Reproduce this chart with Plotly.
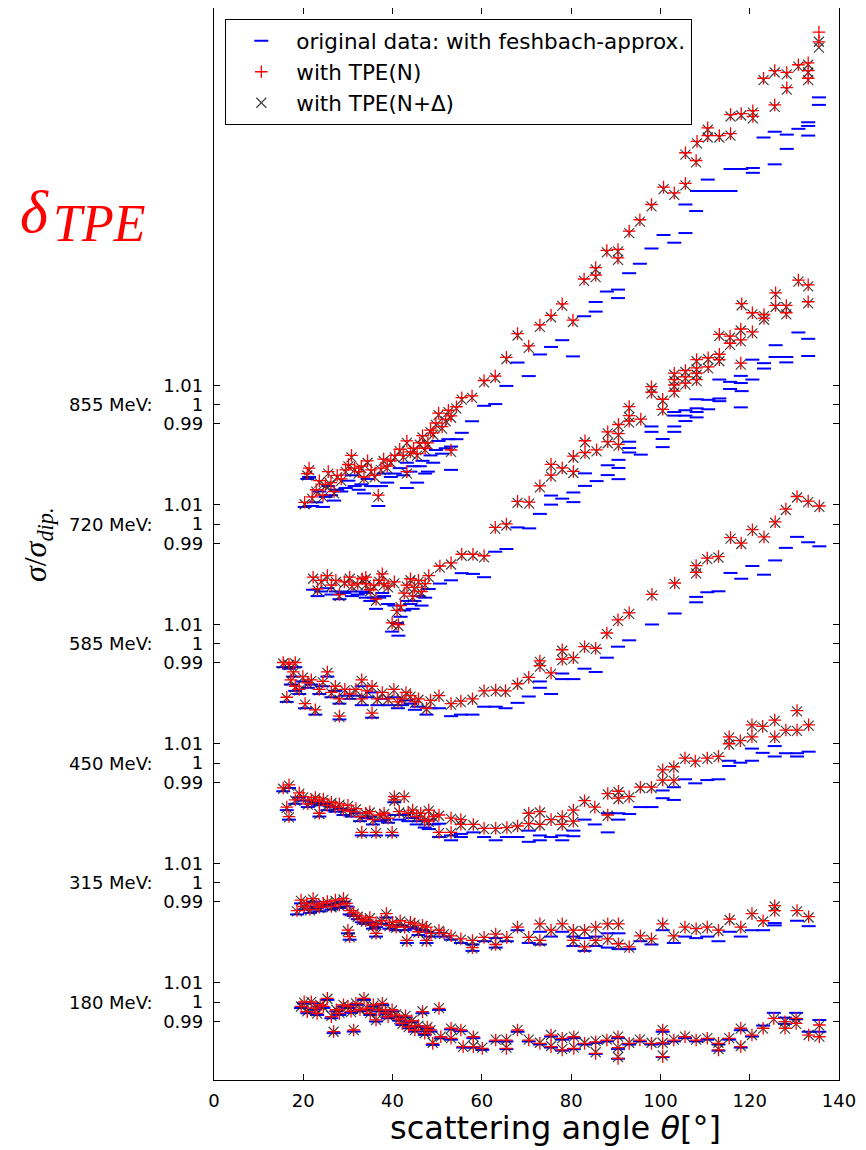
import plotly.graph_objects as go

# ---------------- data (deviations in percent: sigma/sigma_dip = 1 + dev/100) ----------------
energy_labels = ["180 MeV:", "315 MeV:", "450 MeV:", "585 MeV:", "720 MeV:", "855 MeV:"]
y_tick_values = [0.99, 1.0, 1.01]
y_tick_labels = ["0.99", "1", "1.01"]
x_tick_values = [0, 20, 40, 60, 80, 100, 120, 140]

theta_180 = [19.5, 20.2, 20.9, 21.8, 22.5, 23.1, 23.8, 24.5, 25.4, 26.3,
             26.8, 27.4, 28.1, 29.0, 30.0, 30.7, 31.3, 31.8, 32.7, 33.6,
             34.3, 35.0, 35.7, 36.3, 37.0, 37.7, 38.4, 39.0, 39.9, 40.8,
             41.5, 42.2, 42.9, 43.6, 44.3, 45.0, 45.8, 46.7, 47.2, 47.8,
             48.5, 49.0, 50.4, 50.8, 53.1, 53.1, 55.3, 55.8, 58.1, 58.1,
             60.1, 63.1, 65.5, 65.5, 68.0, 70.5, 73.0, 75.5, 75.5, 78.0,
             78.0, 80.6, 80.6, 83.0, 85.5, 85.5, 88.0, 90.5, 90.5, 90.5,
             93.0, 95.4, 98.0, 100.5, 100.5, 100.5, 103.0, 105.5, 108.0, 110.5,
             113.0, 113.0, 115.4, 118.0, 118.0, 120.5, 123.0, 125.4, 127.9, 127.9,
             130.4, 130.4, 133.2, 135.6, 135.6]
orig_180 = [-0.31, -0.07, -0.58, -0.07, -0.40, -0.67, -0.23, -0.31, 0.11, -0.84,
            -1.61, -0.48, -0.67, -0.23, -0.31, -0.56, -1.53, -0.15, -0.48, 0.11,
            -0.40, -0.67, -0.23, -1.01, -0.48, -0.15, -0.64, -0.84, -0.48, -0.76,
            -0.97, -1.19, -0.80, -1.36, -1.05, -1.53, -1.30, -0.58, -1.70, -1.38,
            -1.53, -2.22, -0.41, -1.88, -1.42, -1.95, -1.51, -2.36, -1.87, -2.36,
            -2.48, -2.04, -2.04, -2.44, -1.54, -2.04, -2.20, -1.79, -2.36, -1.95,
            -2.52, -1.87, -2.44, -2.20, -2.12, -2.69, -2.04, -1.87, -2.94, -2.44,
            -2.20, -2.04, -2.20, -1.54, -2.85, -2.16, -2.04, -1.87, -2.04, -1.95,
            -2.20, -2.52, -1.95, -1.46, -2.36, -1.79, -1.22, -0.56, -0.81, -1.13,
            -0.56, -0.89, -1.54, -0.93, -1.54]
tpe_n_180 = [-0.23, 0.01, -0.50, 0.01, -0.32, -0.59, -0.15, -0.23, 0.19, -0.76,
             -1.53, -0.40, -0.59, -0.15, -0.23, -0.48, -1.45, -0.07, -0.40, 0.19,
             -0.32, -0.59, -0.15, -0.93, -0.40, -0.07, -0.56, -0.76, -0.40, -0.68,
             -0.89, -1.11, -0.72, -1.28, -0.97, -1.45, -1.22, -0.50, -1.62, -1.30,
             -1.45, -2.14, -0.33, -1.80, -1.36, -1.88, -1.45, -2.31, -1.80, -2.31,
             -2.40, -1.97, -1.97, -2.40, -1.45, -1.97, -2.14, -1.71, -2.31, -1.88,
             -2.48, -1.80, -2.40, -2.14, -2.06, -2.66, -1.97, -1.80, -2.92, -2.36,
             -2.14, -1.97, -2.14, -1.45, -2.83, -2.12, -1.97, -1.80, -1.97, -1.88,
             -2.14, -2.48, -1.88, -1.36, -2.31, -1.71, -1.36, -0.85, -1.02, -1.36,
             -0.85, -1.11, -1.71, -1.19, -1.80]
tpe_nd_180 = [-0.23, -0.03, -0.48, 0.01, -0.32, -0.60, -0.15, -0.27, 0.17, -0.72,
              -1.54, -0.40, -0.56, -0.15, -0.23, -0.52, -1.46, -0.07, -0.40, 0.17,
              -0.32, -0.56, -0.19, -0.93, -0.40, -0.07, -0.56, -0.72, -0.44, -0.64,
              -0.89, -1.13, -0.72, -1.30, -0.97, -1.46, -1.22, -0.48, -1.62, -1.30,
              -1.46, -2.11, -0.32, -1.79, -1.38, -1.87, -1.46, -2.32, -1.79, -2.28,
              -2.36, -1.95, -1.95, -2.36, -1.46, -1.95, -2.11, -1.71, -2.28, -1.87,
              -2.44, -1.79, -2.36, -2.11, -2.03, -2.60, -1.95, -1.79, -2.85, -2.36,
              -2.11, -1.95, -2.11, -1.46, -2.77, -2.11, -1.95, -1.79, -1.95, -1.87,
              -2.11, -2.44, -1.87, -1.38, -2.28, -1.71, -1.38, -0.89, -1.01, -1.38,
              -0.85, -1.13, -1.71, -1.22, -1.79]

theta_315 = [18.6, 19.5, 20.2, 20.8, 21.5, 22.2, 22.9, 23.6, 24.5, 25.4,
             26.3, 27.2, 28.1, 29.0, 29.7, 30.0, 30.4, 30.4, 31.3, 32.2,
             33.1, 34.0, 34.9, 35.6, 36.3, 36.3, 37.5, 38.6, 39.3, 40.0,
             40.8, 41.7, 42.7, 43.2, 44.0, 44.9, 45.8, 46.7, 47.6, 47.6,
             48.6, 50.4, 51.5, 53.1, 55.3, 57.9, 57.9, 60.5, 63.1, 63.1,
             65.6, 68.0, 70.5, 73.0, 73.0, 75.5, 78.0, 80.5, 80.5, 83.0,
             83.0, 85.5, 85.5, 88.2, 88.2, 90.6, 90.6, 93.0, 95.5, 98.0,
             100.5, 103.0, 105.5, 108.0, 110.5, 113.0, 115.5, 118.0, 120.5, 123.0,
             125.6, 125.6, 130.6, 133.2]
orig_315 = [-1.65, -1.08, -1.40, -1.24, -1.57, -0.99, -1.32, -1.49, -1.24, -1.16,
            -1.40, -1.08, -1.32, -0.99, -1.24, -2.63, -1.65, -2.96, -1.73, -1.90,
            -2.06, -2.14, -2.06, -2.39, -2.80, -2.31, -2.14, -1.81, -2.39, -2.22,
            -2.47, -2.22, -2.47, -3.13, -2.31, -2.39, -2.72, -2.47, -2.55, -3.13,
            -2.80, -2.63, -2.80, -2.96, -3.13, -3.21, -3.54, -3.04, -2.88, -3.37,
            -3.04, -2.47, -3.13, -2.55, -3.21, -2.80, -2.55, -2.80, -3.29, -2.88,
            -3.54, -2.80, -3.29, -2.63, -3.37, -2.63, -3.45, -3.45, -3.04, -3.21,
            -2.47, -3.13, -2.80, -2.88, -2.80, -3.04, -2.55, -2.80, -2.47, -2.47,
            -2.10, -2.22, -1.98, -2.26]
tpe_n_315 = [-1.45, -0.91, -1.24, -1.08, -1.40, -0.83, -1.16, -1.28, -1.08, -0.99,
             -1.24, -0.91, -1.16, -0.83, -1.08, -2.47, -1.45, -2.80, -1.57, -1.73,
             -1.90, -1.98, -1.81, -2.22, -2.63, -2.14, -1.98, -1.61, -2.22, -2.06,
             -2.31, -1.98, -2.31, -3.00, -2.06, -2.14, -2.55, -2.22, -2.31, -3.00,
             -2.63, -2.47, -2.63, -2.76, -2.92, -3.00, -3.37, -2.84, -2.67, -3.21,
             -2.84, -2.31, -2.84, -2.14, -3.00, -2.47, -2.14, -2.47, -3.00, -2.47,
             -3.33, -2.31, -3.00, -2.14, -2.92, -2.14, -3.17, -3.33, -2.76, -2.92,
             -2.14, -2.76, -2.31, -2.39, -2.31, -2.47, -1.90, -2.31, -1.61, -1.98,
             -1.20, -1.45, -1.45, -1.77]
tpe_nd_315 = [-1.49, -0.95, -1.28, -1.12, -1.44, -0.87, -1.20, -1.32, -1.12, -1.03,
              -1.28, -0.95, -1.20, -0.87, -1.12, -2.51, -1.49, -2.84, -1.61, -1.77,
              -1.94, -2.02, -1.85, -2.26, -2.67, -2.18, -2.02, -1.65, -2.26, -2.10,
              -2.35, -2.02, -2.35, -3.04, -2.10, -2.18, -2.59, -2.26, -2.35, -3.04,
              -2.67, -2.51, -2.67, -2.80, -2.96, -3.04, -3.41, -2.88, -2.71, -3.25,
              -2.88, -2.35, -2.88, -2.18, -3.04, -2.51, -2.18, -2.51, -3.04, -2.51,
              -3.37, -2.35, -3.04, -2.18, -2.96, -2.18, -3.21, -3.37, -2.80, -2.96,
              -2.18, -2.80, -2.35, -2.43, -2.35, -2.51, -1.94, -2.35, -1.65, -2.02,
              -1.24, -1.49, -1.49, -1.81]

theta_450 = [15.5, 16.3, 16.8, 16.8, 18.2, 19.1, 20.0, 21.0, 21.8, 22.7,
             23.6, 23.6, 24.5, 25.4, 26.3, 27.2, 28.1, 29.0, 30.0, 30.8,
             31.8, 32.7, 33.1, 34.0, 34.9, 35.6, 36.3, 37.2, 38.1, 39.0,
             39.9, 40.4, 40.4, 41.5, 42.6, 43.5, 44.5, 45.4, 46.3, 47.2,
             48.1, 48.1, 49.2, 50.4, 50.4, 53.1, 53.1, 55.3, 55.3, 58.1,
             60.5, 63.1, 65.6, 68.0, 70.5, 70.5, 73.0, 73.0, 75.5, 78.0,
             78.0, 80.5, 80.5, 83.0, 85.3, 88.2, 88.2, 90.6, 90.6, 93.0,
             95.5, 98.0, 100.5, 100.5, 103.0, 103.0, 105.5, 107.8, 110.5, 113.0,
             115.4, 115.4, 117.9, 120.5, 120.5, 122.9, 125.6, 125.6, 128.1, 130.6,
             130.6, 133.2]
orig_450 = [-1.46, -2.44, -1.29, -2.93, -2.11, -1.78, -1.95, -2.28, -2.11, -2.03,
            -2.19, -2.77, -2.11, -2.44, -2.28, -2.52, -2.36, -2.69, -2.44, -2.77,
            -2.60, -3.01, -3.75, -2.85, -2.77, -3.18, -3.75, -3.01, -2.93, -3.09,
            -3.75, -2.03, -2.69, -2.93, -2.69, -3.01, -2.85, -3.18, -3.01, -3.34,
            -2.93, -3.42, -3.18, -3.14, -3.83, -3.75, -4.00, -3.83, -3.67, -3.59,
            -3.83, -4.00, -3.83, -3.83, -3.50, -4.08, -3.75, -4.00, -3.83, -3.75,
            -4.00, -3.50, -3.79, -2.93, -3.18, -2.60, -3.59, -2.60, -2.93, -2.64,
            -2.28, -2.28, -1.42, -1.82, -1.25, -1.91, -0.84, -1.05, -0.88, -0.84,
            0.12, -0.15, 0.02, 0.12, 0.75, 0.53, 0.88, 0.34, 0.51, 0.51,
            0.34, 0.59]
tpe_n_450 = [-1.29, -2.28, -1.13, -2.77, -1.91, -1.54, -1.74, -2.11, -1.91, -1.78,
             -1.99, -2.60, -1.87, -2.19, -2.03, -2.28, -2.11, -2.44, -2.19, -2.52,
             -2.36, -2.77, -3.59, -2.60, -2.52, -2.93, -3.59, -2.69, -2.60, -2.85,
             -3.59, -1.74, -1.91, -2.52, -1.74, -2.60, -2.44, -2.77, -2.60, -2.93,
             -2.44, -3.01, -2.77, -2.69, -3.59, -2.85, -3.59, -2.93, -3.18, -3.18,
             -3.38, -3.38, -3.34, -3.26, -2.60, -3.14, -2.52, -3.18, -2.93, -2.77,
             -3.18, -2.44, -3.01, -1.95, -2.28, -1.58, -2.69, -1.46, -1.82, -1.74,
             -1.25, -1.25, -0.35, -0.88, -0.19, -0.88, 0.26, 0.10, 0.26, 0.35,
             1.36, 1.00, 1.16, 1.36, 1.98, 1.90, 2.23, 1.36, 1.71, 2.72,
             1.71, 1.98]
tpe_nd_450 = [-1.33, -2.32, -1.17, -2.81, -1.95, -1.58, -1.78, -2.15, -1.95, -1.82,
              -2.03, -2.64, -1.91, -2.23, -2.07, -2.32, -2.15, -2.48, -2.23, -2.56,
              -2.40, -2.81, -3.63, -2.64, -2.56, -2.97, -3.63, -2.73, -2.64, -2.89,
              -3.63, -1.78, -1.95, -2.56, -1.78, -2.64, -2.48, -2.81, -2.64, -2.97,
              -2.48, -3.05, -2.81, -2.73, -3.63, -2.89, -3.63, -2.97, -3.22, -3.22,
              -3.42, -3.42, -3.38, -3.30, -2.64, -3.18, -2.56, -3.22, -2.97, -2.81,
              -3.22, -2.48, -3.05, -1.99, -2.32, -1.62, -2.73, -1.50, -1.86, -1.78,
              -1.29, -1.29, -0.39, -0.92, -0.23, -0.92, 0.22, 0.06, 0.22, 0.31,
              1.32, 0.96, 1.12, 1.32, 1.94, 1.86, 2.19, 1.32, 1.67, 2.68,
              1.67, 1.94]

theta_585 = [15.5, 16.3, 16.8, 17.2, 17.8, 18.2, 18.2, 19.1, 19.9, 20.4,
             21.0, 21.8, 22.7, 23.6, 24.4, 25.4, 26.3, 27.2, 28.1, 28.1,
             29.3, 30.4, 31.8, 33.1, 33.1, 34.3, 35.4, 35.4, 36.6, 37.7,
             39.0, 40.3, 41.2, 42.1, 43.0, 44.0, 45.0, 45.8, 47.6, 48.5,
             50.4, 53.1, 55.3, 57.9, 60.5, 63.1, 65.3, 68.0, 70.5, 73.0,
             73.0, 75.5, 78.0, 78.0, 80.5, 83.0, 85.5, 88.0, 90.5, 93.0,
             98.1, 103.2, 108.0, 108.0, 110.5, 113.0, 115.7, 118.1, 120.6, 123.2,
             125.7, 128.1, 130.6, 133.1, 135.6]
orig_585 = [-1.22, -3.02, -1.30, -2.12, -1.71, -1.22, -2.45, -2.61, -1.96, -3.35,
            -2.29, -2.12, -3.68, -2.61, -2.21, -1.71, -2.78, -2.45, -3.11, -3.93,
            -2.70, -2.86, -2.70, -2.21, -3.19, -2.78, -2.53, -3.84, -3.19, -2.86,
            -3.19, -2.78, -3.35, -3.19, -2.94, -3.11, -3.43, -3.27, -3.68, -3.35,
            -3.35, -3.76, -3.68, -3.68, -3.27, -3.27, -3.35, -3.07, -2.74, -1.96,
            -2.29, -2.61, -1.55, -1.84, -1.84, -1.30, -1.47, -0.73, -0.16, 0.17,
            0.99, 1.56, 2.42, 2.14, 2.66, 2.71, 3.66, 3.36, 4.02, 3.57,
            4.31, 4.96, 5.53, 5.25, 5.04]
tpe_n_585 = [-0.98, -2.78, -1.06, -1.88, -1.47, -0.98, -2.21, -2.37, -1.71, -3.11,
             -2.04, -1.88, -3.43, -2.37, -1.96, -1.47, -2.53, -2.21, -2.86, -3.76,
             -2.37, -2.61, -2.37, -1.88, -2.86, -2.45, -2.21, -3.60, -2.86, -2.53,
             -2.86, -2.37, -3.02, -2.86, -2.53, -2.70, -3.02, -2.86, -3.35, -2.94,
             -2.70, -3.11, -2.98, -2.86, -2.45, -2.41, -2.45, -2.08, -1.75, -0.90,
             -1.14, -1.52, -0.32, -0.81, -0.73, -0.16, -0.24, 0.55, 1.23, 1.59,
             2.55, 3.14, 4.04, 3.69, 4.43, 4.51, 5.49, 5.21, 5.90, 5.53,
             6.31, 6.97, 7.62, 7.38, 7.13]
tpe_nd_585 = [-1.03, -2.83, -1.11, -1.93, -1.52, -1.03, -2.26, -2.42, -1.76, -3.16,
              -2.09, -1.93, -3.48, -2.42, -2.01, -1.52, -2.58, -2.26, -2.91, -3.81,
              -2.42, -2.66, -2.42, -1.93, -2.91, -2.50, -2.26, -3.65, -2.91, -2.58,
              -2.91, -2.42, -3.07, -2.91, -2.58, -2.75, -3.07, -2.91, -3.40, -2.99,
              -2.75, -3.16, -3.03, -2.91, -2.50, -2.46, -2.50, -2.13, -1.80, -0.95,
              -1.19, -1.57, -0.37, -0.86, -0.78, -0.21, -0.29, 0.50, 1.18, 1.54,
              2.50, 3.09, 3.99, 3.64, 4.38, 4.46, 5.44, 5.16, 5.85, 5.48,
              6.26, 6.92, 7.57, 7.33, 7.08]

theta_720 = [22.2, 23.2, 24.0, 25.4, 26.3, 27.3, 28.1, 29.2, 30.4, 30.9,
             32.2, 33.2, 34.0, 34.0, 35.0, 35.8, 36.3, 37.0, 37.7, 38.1,
             39.0, 39.9, 40.4, 41.0, 41.3, 41.8, 42.6, 43.2, 44.0, 44.5,
             44.9, 45.8, 46.5, 47.3, 48.1, 50.6, 53.1, 55.5, 58.0, 60.5,
             63.0, 65.5, 68.0, 70.6, 73.0, 75.5, 75.5, 78.0, 80.5, 80.5,
             83.1, 83.1, 85.7, 88.2, 88.2, 90.6, 90.6, 90.6, 93.0, 93.0,
             93.0, 95.6, 98.0, 98.0, 100.5, 100.5, 103.1, 103.1, 103.1, 103.1,
             105.6, 105.6, 105.6, 108.1, 108.1, 108.1, 108.1, 110.7, 110.7, 113.2,
             113.2, 113.2, 115.6, 115.6, 118.0, 118.0, 118.0, 118.2, 120.6, 120.6,
             123.2, 123.2, 125.8, 125.8, 128.2, 128.2, 130.9, 133.1, 133.1]
orig_720 = [-3.40, -3.73, -3.49, -3.32, -3.65, -3.49, -3.89, -3.57, -3.49, -3.73,
            -3.65, -3.49, -3.57, -3.81, -3.98, -3.81, -4.39, -3.81, -3.57, -3.73,
            -4.14, -5.57, -4.22, -5.12, -5.78, -4.80, -4.47, -3.98, -4.14, -4.39,
            -3.98, -3.73, -4.22, -3.81, -3.36, -3.08, -2.91, -2.54, -2.58, -2.75,
            -1.43, -1.29, -0.17, -0.22, 0.53, 1.48, 1.01, 1.32, 1.64, 1.14,
            2.63, 1.98, 2.23, 3.05, 2.54, 3.33, 2.33, 2.91, 4.27, 3.94,
            3.71, 3.60, 5.06, 4.78, 4.41, 3.99, 5.81, 5.62, 5.06, 4.78,
            5.90, 5.62, 5.34, 6.47, 6.00, 5.81, 5.53, 6.44, 5.95, 7.49,
            6.51, 6.37, 7.37, 7.00, 7.68, 7.31, 6.05, 6.89, 8.52, 7.49,
            8.34, 8.06, 9.27, 8.66, 8.66, 8.38, 9.93, 9.60, 8.71]
tpe_n_720 = [-2.75, -3.36, -2.91, -2.67, -3.16, -2.91, -3.65, -2.99, -2.75, -3.16,
             -3.08, -2.83, -2.75, -3.08, -3.40, -3.16, -3.89, -2.91, -2.58, -3.08,
             -3.20, -5.12, -2.99, -4.47, -5.20, -4.22, -3.57, -3.16, -2.83, -3.73,
             -3.28, -2.91, -3.49, -3.08, -2.67, -2.17, -2.01, -1.56, -1.56, -1.64,
             -0.17, 0.01, 1.18, 1.14, 1.98, 3.10, 2.54, 2.91, 3.52, 2.73,
             4.32, 3.71, 3.85, 4.78, 4.27, 5.16, 4.13, 4.69, 6.09, 5.62,
             5.34, 5.44, 7.12, 6.84, 6.47, 5.95, 7.82, 7.49, 7.21, 6.89,
             7.96, 7.63, 7.31, 8.52, 8.10, 7.82, 7.49, 8.62, 8.15, 9.83,
             8.80, 8.52, 9.74, 9.37, 10.11, 9.55, 8.34, 11.42, 10.95, 9.96,
             10.67, 10.86, 11.98, 11.33, 11.33, 10.95, 12.64, 12.40, 11.52]
tpe_nd_720 = [-2.83, -3.44, -2.99, -2.75, -3.24, -2.99, -3.73, -3.07, -2.83, -3.24,
              -3.16, -2.91, -2.83, -3.16, -3.48, -3.24, -3.97, -2.99, -2.66, -3.16,
              -3.28, -5.20, -3.07, -4.55, -5.28, -4.30, -3.65, -3.24, -2.91, -3.81,
              -3.36, -2.99, -3.57, -3.16, -2.75, -2.25, -2.09, -1.64, -1.64, -1.72,
              -0.25, -0.07, 1.10, 1.06, 1.90, 3.02, 2.46, 2.83, 3.44, 2.65,
              4.24, 3.63, 3.77, 4.70, 4.19, 5.08, 4.05, 4.61, 6.01, 5.54,
              5.26, 5.36, 7.04, 6.76, 6.39, 5.87, 7.74, 7.41, 7.13, 6.81,
              7.88, 7.55, 7.23, 8.44, 8.02, 7.74, 7.41, 8.54, 8.07, 9.75,
              8.72, 8.44, 9.66, 9.29, 10.03, 9.47, 8.26, 11.34, 10.87, 9.88,
              10.59, 10.78, 11.90, 11.25, 11.25, 10.87, 12.56, 12.32, 11.44]

theta_855 = [20.3, 20.9, 21.3, 22.0, 22.9, 23.6, 24.4, 25.0, 25.6, 26.2,
             26.9, 27.6, 28.5, 29.5, 30.1, 30.8, 31.5, 32.4, 33.0, 33.6,
             34.4, 35.2, 36.0, 36.8, 37.4, 38.0, 38.8, 39.6, 40.5, 41.6,
             42.4, 43.2, 43.2, 44.0, 44.7, 45.5, 46.1, 46.7, 47.3, 47.9,
             48.5, 49.1, 49.7, 50.3, 51.1, 51.9, 52.5, 53.1, 53.1, 54.3,
             55.5, 57.8, 60.5, 63.0, 65.5, 68.0, 70.5, 73.0, 75.5, 78.0,
             80.4, 82.9, 85.5, 85.5, 88.0, 90.5, 90.5, 93.0, 95.4, 98.0,
             100.7, 103.1, 105.6, 105.6, 108.0, 108.2, 110.6, 110.6, 113.2, 115.7,
             115.7, 118.1, 120.7, 120.7, 123.1, 125.6, 125.6, 128.3, 128.3, 130.9,
             133.1, 133.1, 133.1, 135.5, 135.5]
orig_855 = [-5.30, -3.85, -3.75, -5.25, -5.06, -4.50, -5.30, -4.78, -4.22, -4.69,
            -4.97, -4.41, -4.50, -4.32, -3.94, -3.66, -4.22, -4.41, -4.13, -4.60,
            -3.85, -4.22, -4.22, -5.25, -4.22, -3.57, -4.04, -3.75, -3.57, -3.29,
            -3.66, -3.01, -4.32, -3.47, -3.19, -4.04, -3.19, -2.91, -3.57, -3.47,
            -2.63, -3.01, -2.35, -1.88, -2.54, -2.26, -1.79, -2.17, -3.38, -1.79,
            -1.46, -0.86, -0.06, 0.03, 0.97, 2.18, 1.48, 2.60, 2.99, 3.34,
            2.50, 4.58, 5.32, 4.82, 5.86, 5.96, 5.52, 6.81, 7.30, 8.09,
            8.79, 8.39, 8.89, 10.37, 10.03, 11.07, 11.66, 11.07, 11.07, 11.07,
            12.21, 12.21, 12.26, 12.01, 13.84, 14.14, 12.45, 13.99, 13.25, 14.29,
            14.63, 14.44, 13.94, 15.92, 15.53]
tpe_n_855 = [-5.06, -3.57, -3.29, -4.78, -4.41, -3.94, -4.69, -4.13, -3.47, -4.04,
             -4.50, -3.66, -3.85, -3.38, -3.10, -2.63, -3.29, -3.47, -3.19, -3.75,
             -2.91, -3.38, -3.66, -4.69, -3.29, -2.82, -3.19, -2.91, -2.63, -2.31,
             -2.63, -1.88, -3.47, -2.45, -2.26, -2.54, -1.98, -1.60, -2.26, -1.98,
             -1.32, -1.46, -0.95, -0.44, -1.14, -0.76, -0.29, -0.58, -2.35, -0.11,
             0.36, 0.45, 1.25, 1.48, 2.45, 3.68, 3.04, 4.13, 4.63, 5.22,
             4.38, 6.51, 7.10, 6.71, 7.99, 8.04, 7.60, 8.99, 9.58, 10.37,
             11.27, 10.97, 11.46, 13.05, 12.65, 13.64, 13.94, 14.34, 13.94, 14.04,
             15.03, 15.08, 15.23, 14.93, 16.91, 17.31, 15.53, 17.21, 16.42, 17.61,
             17.71, 17.31, 16.91, 19.30, 18.80]
tpe_nd_855 = [-5.16, -3.67, -3.39, -4.88, -4.51, -4.04, -4.79, -4.23, -3.57, -4.14,
              -4.60, -3.76, -3.95, -3.48, -3.20, -2.73, -3.39, -3.57, -3.29, -3.85,
              -3.01, -3.48, -3.76, -4.79, -3.39, -2.92, -3.29, -3.01, -2.73, -2.41,
              -2.73, -1.98, -3.57, -2.55, -2.36, -2.64, -2.08, -1.70, -2.36, -2.08,
              -1.42, -1.56, -1.05, -0.54, -1.24, -0.86, -0.39, -0.68, -2.45, -0.21,
              0.26, 0.35, 1.15, 1.38, 2.35, 3.58, 2.94, 4.03, 4.53, 5.12,
              4.28, 6.41, 7.00, 6.61, 7.89, 7.94, 7.50, 8.89, 9.48, 10.27,
              11.17, 10.87, 11.36, 12.95, 12.55, 13.54, 13.84, 14.24, 13.84, 13.94,
              14.93, 14.98, 15.13, 14.83, 16.81, 17.21, 15.43, 17.11, 16.32, 17.51,
              17.61, 17.21, 16.81, 18.80, 18.50]

groups = [
    (theta_180, orig_180, tpe_n_180, tpe_nd_180),
    (theta_315, orig_315, tpe_n_315, tpe_nd_315),
    (theta_450, orig_450, tpe_n_450, tpe_nd_450),
    (theta_585, orig_585, tpe_n_585, tpe_nd_585),
    (theta_720, orig_720, tpe_n_720, tpe_nd_720),
    (theta_855, orig_855, tpe_n_855, tpe_nd_855),
]

# ---------------- layout constants ----------------
STEP = 0.0619          # vertical stacking offset between energies
Y_RANGE = [0.9596, 1.5150]

xs, y_orig, y_n, y_nd = [], [], [], []
for k, (th, o, n, nd) in enumerate(groups):
    assert len(th) == len(o) == len(n) == len(nd), (k, len(th), len(o), len(n), len(nd))
    xs += th
    y_orig += [1 + v / 100 + k * STEP for v in o]
    y_n += [1 + v / 100 + k * STEP for v in n]
    y_nd += [1 + v / 100 + k * STEP for v in nd]

fig = go.Figure()
fig.add_trace(go.Scatter(
    x=xs, y=y_orig, mode="markers", name="original data: with feshbach-approx.",
    legendrank=1, legendgroup="a",
    marker=dict(symbol="line-ew", size=10, line=dict(width=2, color="#0000ff"), color="#0000ff")))
fig.add_trace(go.Scatter(
    x=xs, y=y_nd, mode="markers", name="with TPE(N+Δ)",
    legendrank=3, legendgroup="c",
    marker=dict(symbol="x-thin", size=10, line=dict(width=1.2, color="rgba(30,30,30,0.85)"))))
fig.add_trace(go.Scatter(
    x=xs, y=y_n, mode="markers", name="with TPE(N)",
    legendrank=2, legendgroup="b",
    marker=dict(symbol="cross-thin", size=9, line=dict(width=1.3, color="#ff0000"))))

tickvals, ticktext = [], []
for k in range(len(groups)):
    for tv, tl in zip(y_tick_values, y_tick_labels):
        tickvals.append(tv + k * STEP)
        ticktext.append(tl)

annotations = []
for k, lab in enumerate(energy_labels):
    annotations.append(dict(x=-0.0944, y=1 + k * STEP, xref="paper", yref="y", text=lab,
                            showarrow=False, xanchor="right", yanchor="middle",
                            font=dict(size=18, family="DejaVu Sans", color="black")))
annotations.append(dict(x=-0.2832, y=0.499, xref="paper", yref="paper",
                        text="<i>σ</i>/<i>σ</i><sub><i>dip.</i></sub>", textangle=-90,
                        showarrow=False, xanchor="center", yanchor="middle",
                        font=dict(size=32, family="Liberation Serif", color="black")))
annotations.append(dict(x=-0.3136, y=0.8097, xref="paper", yref="paper",
                        text="<i>δ</i>", showarrow=False, xanchor="left", yanchor="middle",
                        font=dict(size=60, family="Liberation Serif", color="#ff0000")))
annotations.append(dict(x=-0.1840, y=0.7990, xref="paper", yref="paper",
                        text="<i>TPE</i>", showarrow=False, xanchor="center", yanchor="middle",
                        font=dict(size=52, family="Liberation Serif", color="#ff0000")))
annotations.append(dict(x=0.5456, y=-0.0448, xref="paper", yref="paper",
                        text="scattering angle <i>θ</i>[°]", showarrow=False,
                        xanchor="center", yanchor="middle",
                        font=dict(size=32, family="DejaVu Sans", color="black")))

fig.update_layout(
    width=858, height=1142,
    margin=dict(l=206, r=27, t=0, b=70, autoexpand=False),
    plot_bgcolor="white", paper_bgcolor="white",
    font=dict(family="DejaVu Sans", size=18, color="black"),
    showlegend=True,
    legend=dict(x=0.0176, y=0.9897, xanchor="left", yanchor="top",
                bgcolor="white", bordercolor="black", borderwidth=1.3,
                font=dict(size=21.5, family="DejaVu Sans"),
                itemwidth=60, tracegroupgap=0, traceorder="grouped"),
    xaxis=dict(range=[0, 140], tickvals=x_tick_values, ticks="inside", ticklen=6,
               tickwidth=1, tickcolor="black", showline=True, linecolor="black",
               linewidth=1.3, mirror="ticks", showgrid=False, zeroline=False,
               ticklabelstandoff=4),
    yaxis=dict(range=Y_RANGE, tickvals=tickvals, ticktext=ticktext, ticks="inside",
               ticklen=6, tickwidth=1, tickcolor="black", showline=True, linecolor="black",
               linewidth=1.3, mirror="ticks", showgrid=False, zeroline=False,
               ticklabelstandoff=6),
    annotations=annotations,
)

fig.write_html("out.html")
